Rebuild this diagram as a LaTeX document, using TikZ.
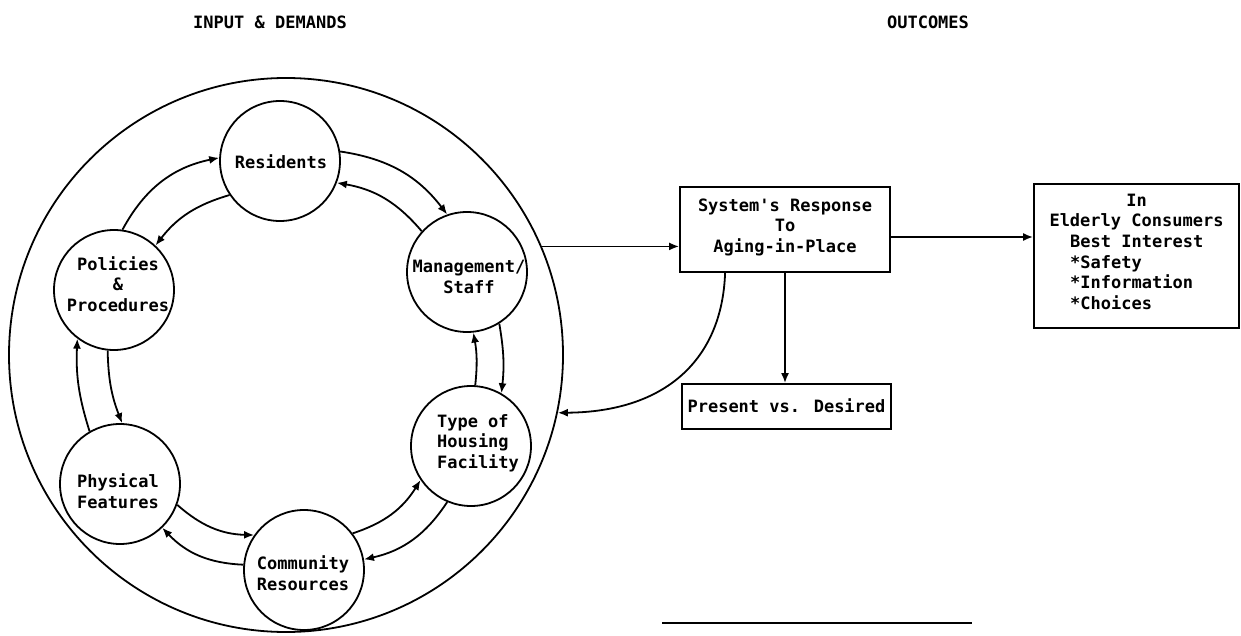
\documentclass[tikz,border=0pt]{standalone}
\usepackage{fontspec}
\newfontfamily\dmono{DejaVu Sans Mono}
\usetikzlibrary{arrows.meta}
\tikzset{
  lw/.style={line width=1.8pt},
  circ/.style={lw, draw, circle, minimum size=120pt, inner sep=0pt},
  ring/.style={lw, draw, circle, minimum size=554pt, inner sep=0pt},
  box/.style={lw, draw, rectangle, inner sep=0pt},
  txt/.style={font=\dmono\bfseries\fontsize{17pt}{20.5pt}\selectfont, align=center, inner sep=0pt},
  txtl/.style={txt, align=left},
  arr/.style={lw, -{Latex[length=10pt,width=8pt]}},
}
\begin{document}
\begin{tikzpicture}[x=1pt,y=-1pt]
\useasboundingbox (0,0) rectangle (1241,636);
% headings
\node[txt] (h1) at (270,22) {INPUT \& DEMANDS};
\node[txt] (h2) at (928,22) {OUTCOMES};
% outer ring
\node[ring] (ring) at (286,355) {};
% inner circles
\node[circ] (res) at (280,161) {};
\node[circ] (mgt) at (467,272) {};
\node[circ] (typ) at (471,446) {};
\node[circ] (com) at (304,570) {};
\node[circ] (phy) at (120,484) {};
\node[circ] (pol) at (114,290) {};
\node[txt] (tres) at (281,162) {Residents};
\node[txt] (tmgt) at (469,277) {Management/\\Staff};
\node[txtl] (ttyp) at (478,443) {Type of\\Housing\\Facility};
\node[txt] (tcom) at (303,573) {Community\\Resources};
\node[txt] (tphy) at (118,491) {Physical\\Features};
\node[txt] (tpol) at (118,284) {Policies\\\&\\Procedures};
% outer (clockwise) arcs
\draw[arr] (pol.82) to[bend left=25] (res.177);
\draw[arr] (res.9) to[bend left=22] (mgt.109);
\draw[arr] (mgt.302) to[bend left=8] (typ.60);
\draw[arr] (typ.247) to[bend left=22] (com.10);
\draw[arr] (com.175) to[bend left=22] (phy.-46);
\draw[arr] (phy.120) to[bend left=10] (pol.233);
% inner (counter-clockwise) arcs
\draw[arr] (res.214) to[bend right=18] (pol.47);
\draw[arr] (mgt.138) to[bend right=20] (res.-21);
\draw[arr] (typ.86) to[bend right=8] (mgt.276);
\draw[arr] (com.37) to[bend right=20] (typ.214);
\draw[arr] (phy.-20) to[bend right=20] (com.145);
\draw[arr] (pol.264) to[bend right=10] (phy.88);
% outcome boxes
\node[box, minimum width=210pt, minimum height=85pt] (sys) at (785,229.5) {};
\node[txt] (tsys) at (785,227) {System's Response\\To\\Aging-in-Place};
\node[box, minimum width=209pt, minimum height=45pt] (pre) at (786.5,406.5) {};
\node[txt] (tpre) at (786.5,406) {Present vs. Desired};
\node[box, minimum width=205pt, minimum height=144pt] (eld) at (1136.5,256) {};
\node[txt] (teld1) at (1136.5,212) {In\\Elderly Consumers};
\node[txtl, anchor=west] (teld2) at (1070,272.5) {Best Interest\\*Safety\\*Information\\*Choices};
% connectors
\draw[arr] (ring.23.4) -- (ring.23.4 -| sys.west);
\draw[arr] ([yshift=-7.5pt]sys.east) -- ([yshift=-7.5pt]sys.east -| eld.west);
\draw[arr] (sys.south) -- (sys.south |- pre.north);
\draw[arr] ([xshift=46pt]sys.south west) .. controls (722,360) and (665,412) .. (ring.-12.1);
% footnote rule
\draw[lw] (662,623) -- (972,623);
\end{tikzpicture}
\end{document}
